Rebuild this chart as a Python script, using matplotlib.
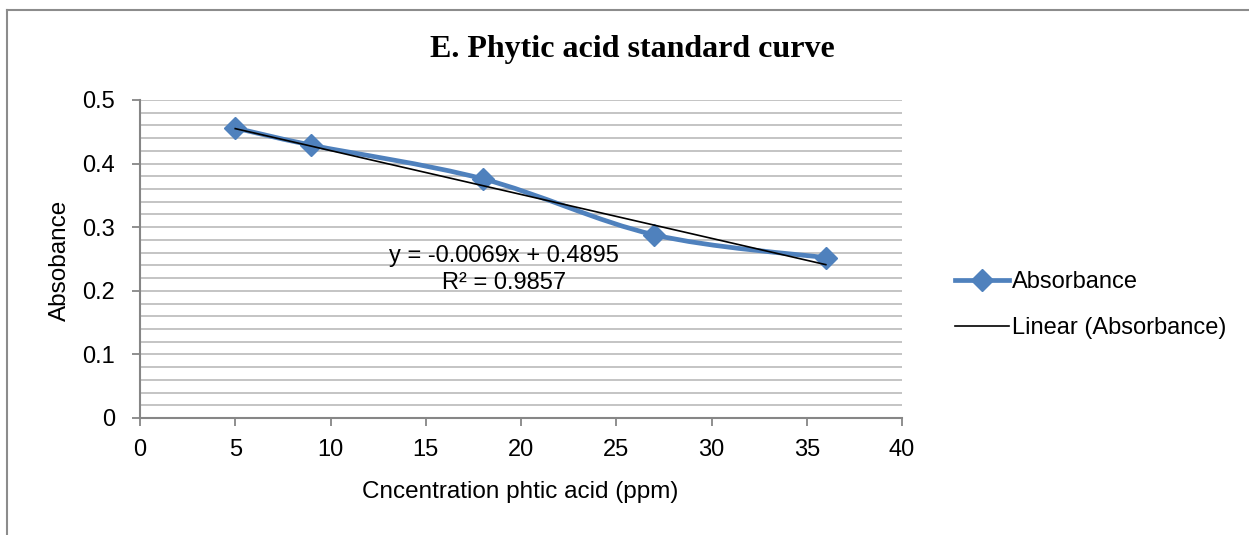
import matplotlib
matplotlib.use("Agg")
import matplotlib.pyplot as plt
from matplotlib.lines import Line2D
from matplotlib.path import Path
from matplotlib.patches import PathPatch
import numpy as np

# data
conc = [5, 9, 18, 27, 36]
absorbance = [0.456, 0.429, 0.376, 0.288, 0.252]
slope, intercept, r2 = -0.0069, 0.4895, 0.9857

BLUE = "#4F81BD"
GRID = "#BFBFBF"
AXIS = "#868686"
SANS = ["Liberation Sans", "DejaVu Sans"]

fig = plt.figure(figsize=(12.49, 5.35), dpi=100)
ax = fig.add_axes([140 / 1249, 1 - 418 / 535, 762 / 1249, 318 / 535])

# Excel-style smoothed line: Catmull-Rom bezier through the points
pts = np.column_stack([conc, absorbance]).astype(float)
verts = [pts[0]]
codes = [Path.MOVETO]
n = len(pts)
for i in range(n - 1):
    p0 = pts[max(i - 1, 0)]
    p1 = pts[i]
    p2 = pts[i + 1]
    p3 = pts[min(i + 2, n - 1)]
    c1 = p1 + (p2 - p0) / 6
    c2 = p2 - (p3 - p1) / 6
    verts += [c1, c2, p2]
    codes += [Path.CURVE4] * 3
ax.add_patch(PathPatch(Path(verts, codes), fill=False, edgecolor=BLUE,
                       lw=3.4, capstyle="round", joinstyle="round", zorder=3))
ax.plot(conc, absorbance, ls="none", marker="D", ms=11.5, color=BLUE, zorder=4)

# linear trendline
xt = np.array([conc[0], conc[-1]])
ax.plot(xt, slope * xt + intercept, color="black", lw=1.2, zorder=5)

ax.text(19.1, 0.2335, f"y = {slope}x + {intercept}\nR² = {r2}", ha="center", va="center",
        fontsize=17, family=SANS, linespacing=1.3, zorder=6)

ax.set_xlim(0, 40)
ax.set_ylim(0, 0.5)
ax.set_xticks(range(0, 41, 5))
ax.set_yticks(np.arange(0, 0.51, 0.1))
ax.set_yticklabels(["0", "0.1", "0.2", "0.3", "0.4", "0.5"])
ax.set_yticks(np.arange(0, 0.51, 0.02), minor=True)
ax.grid(True, which="both", axis="y", color=GRID, lw=1.3, zorder=0)
ax.set_axisbelow(True)
ax.tick_params(which="major", direction="out", length=6, width=1.3, color=AXIS,
               labelsize=17)
ax.tick_params(which="minor", length=0)
ax.tick_params(axis="y", pad=12)
ax.tick_params(axis="x", pad=9)
for lab in ax.get_xticklabels() + ax.get_yticklabels():
    lab.set_family(SANS)
for s in ["top", "right"]:
    ax.spines[s].set_visible(False)
for s in ["left", "bottom"]:
    ax.spines[s].set_color(AXIS)
    ax.spines[s].set_linewidth(1.5)

fig.text(60 / 1249, 1 - 260 / 535, "Absobance", rotation=90, ha="center", va="center",
         fontsize=17.5, family=SANS)
fig.text(520 / 1249, 1 - 492 / 535, "Cncentration phtic acid (ppm)", ha="center",
         va="center", fontsize=17.5, family=SANS)
fig.text(632 / 1249, 1 - 50 / 535, "E. Phytic acid standard curve", ha="center",
         va="center", fontsize=23, fontweight="bold", family=["Liberation Serif", "DejaVu Serif"])

handles = [
    Line2D([], [], color=BLUE, lw=3.4, marker="D", ms=11.5),
    Line2D([], [], color="black", lw=1.2),
]
fig.legend(handles, ["Absorbance", "Linear (Absorbance)"], loc="center left",
           bbox_to_anchor=(955 / 1249, 1 - 305 / 535), frameon=False,
           prop={"family": SANS, "size": 17}, handlelength=2.3, handletextpad=0.1,
           labelspacing=1.0, borderaxespad=0, borderpad=0)

# chart area border (only left and top edges visible in the crop)
fig.add_artist(Line2D([7 / 1249, 7 / 1249], [-0.05, 1 - 10 / 535], color="#8C8C8C",
                      lw=1.5, transform=fig.transFigure))
fig.add_artist(Line2D([7 / 1249, 1.05], [1 - 10 / 535, 1 - 10 / 535], color="#8C8C8C",
                      lw=1.5, transform=fig.transFigure))

fig.savefig("out.png", dpi=100)
plt.close(fig)
